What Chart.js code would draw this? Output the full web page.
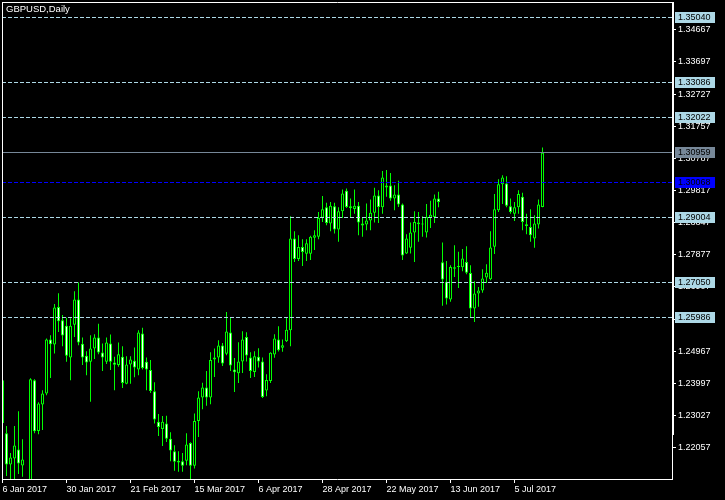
<!DOCTYPE html>
<html><head><meta charset="utf-8">
<script src="https://cdn.jsdelivr.net/npm/chart.js@4.4.1/dist/chart.umd.min.js"></script>
<style>html,body{margin:0;padding:0;background:#000;}canvas{display:block;}</style>
</head><body>
<canvas id="c" width="725" height="500"></canvas>
<script>
const symbolTitle = 'GBPUSD,Daily';
const tickBars = [0, 16, 32, 48, 64, 80, 96, 112, 128];
const tickLabels = ['6 Jan 2017','30 Jan 2017','21 Feb 2017','15 Mar 2017','6 Apr 2017','28 Apr 2017','22 May 2017','13 Jun 2017','5 Jul 2017'];
const priceTicks = [1.34667,1.33697,1.32727,1.31757,1.30787,1.29817,1.28847,1.27877,1.26907,1.25937,1.24967,1.23997,1.23027,1.22057];

const openP = [1.2409,1.2249,1.2155,1.2173,1.2200,1.2152,1.2060,1.2040,1.2409,1.2256,
1.2336,1.2369,1.2532,1.2517,1.2630,1.2590,1.2574,1.2478,1.2577,1.2653,
1.2519,1.2483,1.2465,1.2505,1.2538,1.2493,1.2465,1.2520,1.2463,1.2455,
1.2480,1.2399,1.2457,1.2468,1.2442,1.2550,1.2465,1.2440,1.2376,1.2284,
1.2262,1.2279,1.2233,1.2195,1.2161,1.2165,1.2166,1.2220,1.2151,1.2286,
1.2357,1.2387,1.2357,1.2472,1.2478,1.2514,1.2489,1.2553,1.2442,1.2430,
1.2466,1.2540,1.2478,1.2434,1.2480,1.2466,1.2378,1.2407,1.2487,1.2532,
1.2507,1.2527,1.2560,1.2837,1.2775,1.2811,1.2791,1.2791,1.2839,1.2842,
1.2900,1.2931,1.2882,1.2934,1.2864,1.2919,1.2981,1.2934,1.2926,1.2936,
1.2882,1.2879,1.2891,1.2915,1.2967,1.2931,1.2997,1.2997,1.2958,1.2970,
1.2940,1.2792,1.2809,1.2855,1.2885,1.2880,1.2855,1.2900,1.2902,1.2958,
1.2765,1.2706,1.2653,1.2750,1.2751,1.2750,1.2766,1.2733,1.2626,1.2671,
1.2680,1.2719,1.2714,1.2812,1.2922,1.3001,1.3003,1.2934,1.2912,1.2931,
1.2963,1.2880,1.2872,1.2837,1.2879,1.2932];
const highP = [1.2432,1.2271,1.2190,1.2271,1.2316,1.2231,1.2095,1.2415,1.2412,1.2343,
1.2379,1.2535,1.2545,1.2639,1.2672,1.2606,1.2598,1.2596,1.2678,1.2704,
1.2538,1.2497,1.2545,1.2548,1.2580,1.2520,1.2538,1.2547,1.2480,1.2523,
1.2512,1.2482,1.2482,1.2508,1.2560,1.2568,1.2478,1.2470,1.2403,1.2307,
1.2301,1.2302,1.2252,1.2213,1.2195,1.2190,1.2249,1.2222,1.2309,1.2376,
1.2402,1.2437,1.2494,1.2505,1.2530,1.2522,1.2615,1.2599,1.2476,1.2524,
1.2557,1.2554,1.2494,1.2497,1.2506,1.2478,1.2427,1.2494,1.2548,1.2572,
1.2532,1.2599,1.2904,1.2859,1.2847,1.2835,1.2835,1.2845,1.2862,1.2917,
1.2965,1.2945,1.2947,1.2945,1.2931,1.2985,1.2988,1.2958,1.2985,1.2947,
1.2900,1.2943,1.2955,1.2990,1.2983,1.3041,1.3044,1.3035,1.2998,1.3011,
1.2943,1.2850,1.2885,1.2919,1.2917,1.2904,1.2941,1.2951,1.2970,1.2978,
1.2825,1.2769,1.2756,1.2817,1.2797,1.2805,1.2814,1.2756,1.2708,1.2691,
1.2744,1.2759,1.2859,1.2971,1.3016,1.3028,1.3025,1.2958,1.2947,1.2983,
1.2975,1.2912,1.2925,1.2907,1.2955,1.3112];
const lowP = [1.2262,1.2120,1.2100,1.2040,1.2126,1.2118,1.1987,1.2030,1.2249,1.2246,
1.2259,1.2364,1.2416,1.2490,1.2555,1.2512,1.2465,1.2409,1.2540,1.2515,
1.2455,1.2424,1.2344,1.2473,1.2488,1.2437,1.2458,1.2440,1.2379,1.2450,
1.2386,1.2397,1.2399,1.2418,1.2424,1.2442,1.2379,1.2371,1.2279,1.2241,
1.2211,1.2223,1.2165,1.2136,1.2133,1.2133,1.2153,1.2111,1.2143,1.2238,
1.2322,1.2332,1.2337,1.2419,1.2462,1.2452,1.2485,1.2437,1.2374,1.2401,
1.2431,1.2466,1.2416,1.2419,1.2448,1.2356,1.2361,1.2401,1.2477,1.2496,
1.2495,1.2525,1.2512,1.2766,1.2769,1.2754,1.2769,1.2772,1.2802,1.2835,
1.2887,1.2877,1.2859,1.2852,1.2827,1.2899,1.2929,1.2902,1.2912,1.2847,
1.2842,1.2862,1.2862,1.2885,1.2884,1.2912,1.2963,1.2951,1.2922,1.2932,
1.2772,1.2790,1.2792,1.2766,1.2827,1.2842,1.2840,1.2869,1.2884,1.2931,
1.2634,1.2638,1.2646,1.2721,1.2688,1.2738,1.2729,1.2597,1.2585,1.2631,
1.2673,1.2703,1.2711,1.2790,1.2917,1.2941,1.2931,1.2912,1.2890,1.2912,
1.2862,1.2850,1.2827,1.2809,1.2867,1.2931];
const closeP = [1.2280,1.2155,1.2176,1.2212,1.2158,1.2170,1.2040,1.2412,1.2255,1.2339,
1.2369,1.2532,1.2518,1.2629,1.2587,1.2544,1.2483,1.2574,1.2653,1.2523,
1.2478,1.2463,1.2505,1.2538,1.2493,1.2478,1.2523,1.2465,1.2456,1.2488,
1.2401,1.2457,1.2472,1.2448,1.2553,1.2446,1.2442,1.2377,1.2291,1.2268,
1.2284,1.2233,1.2197,1.2163,1.2166,1.2151,1.2215,1.2151,1.2286,1.2357,
1.2387,1.2357,1.2470,1.2478,1.2514,1.2460,1.2556,1.2454,1.2433,1.2466,
1.2532,1.2484,1.2437,1.2482,1.2466,1.2359,1.2410,1.2492,1.2535,1.2500,
1.2515,1.2562,1.2837,1.2775,1.2811,1.2796,1.2823,1.2842,1.2847,1.2900,
1.2925,1.2884,1.2936,1.2864,1.2919,1.2973,1.2932,1.2929,1.2936,1.2885,
1.2876,1.2891,1.2915,1.2967,1.2932,1.3021,1.2991,1.2958,1.2970,1.2940,
1.2786,1.2837,1.2855,1.2887,1.2880,1.2879,1.2902,1.2909,1.2958,1.2947,
1.2713,1.2656,1.2751,1.2746,1.2753,1.2777,1.2734,1.2626,1.2671,1.2680,
1.2716,1.2734,1.2810,1.2925,1.3001,1.3021,1.2936,1.2917,1.2931,1.2971,
1.2887,1.2875,1.2847,1.2882,1.2940,1.3096];

const dashedLevels = [1.35040, 1.33086, 1.32022, 1.29004, 1.27050, 1.25986];
const blueLevel = 1.30068;
const bidLevel = 1.30959;

const FONT = "'Liberation Sans', Arial, sans-serif";
const Y_MIN = 1.211119, Y_MAX = 1.355078;
const X_MIN = -0.125, X_MAX = 167.375;

const barIdx = openP.map((_, i) => i);

const overlay = {
  id: 'overlay',
  beforeDraw(chart) {
    const ctx = chart.ctx;
    ctx.save();
    ctx.fillStyle = '#000';
    ctx.fillRect(0, 0, chart.width, chart.height);
    ctx.restore();
  },
  afterDatasetsDraw(chart) {
    const { ctx, chartArea: a, scales: { y } } = chart;
    ctx.save();
    ctx.lineWidth = 1;
    const hline = (v, color, dash) => {
      const py = Math.floor(y.getPixelForValue(v)) + 0.5;
      ctx.strokeStyle = color;
      ctx.setLineDash(dash);
      ctx.beginPath();
      ctx.moveTo(a.left, py);
      ctx.lineTo(a.right, py);
      ctx.stroke();
    };
    dashedLevels.forEach(v => hline(v, '#add8e6', [4, 2]));
    hline(blueLevel, '#0000ff', [4, 2]);
    hline(bidLevel, '#778899', []);
    ctx.restore();
  },
  afterDraw(chart) {
    const { ctx, chartArea: a, scales: { y } } = chart;
    ctx.save();
    ctx.setLineDash([]);
    ctx.strokeStyle = '#ffffff';
    ctx.lineWidth = 1;
    ctx.beginPath();
    ctx.moveTo(a.left + 0.5, a.top);
    ctx.lineTo(a.left + 0.5, a.bottom);
    ctx.moveTo(a.left, a.top + 0.5);
    ctx.lineTo(a.right + 1, a.top + 0.5);
    ctx.stroke();
    ctx.fillStyle = '#ffffff';
    ctx.fillRect(a.right + 1, a.top, 1, 433);
    const box = (v, bg) => {
      const py = Math.floor(y.getPixelForValue(v));
      ctx.fillStyle = bg;
      ctx.fillRect(675, py - 5, 40, 11);
      ctx.fillStyle = '#000000';
      ctx.font = '9px ' + FONT;
      ctx.textAlign = 'left';
      ctx.textBaseline = 'middle';
      ctx.fillText(v.toFixed(5), 678, py + 0.5);
    };
    dashedLevels.forEach(v => box(v, '#add8e6'));
    box(blueLevel, '#0000ff');
    box(bidLevel, '#778899');
    ctx.fillStyle = '#ffffff';
    ctx.font = '9.5px ' + FONT;
    ctx.textAlign = 'left';
    ctx.textBaseline = 'alphabetic';
    ctx.fillText(symbolTitle, 6, 12);
    ctx.restore();
  }
};

const axisGrid = { display: true, drawOnChartArea: false, drawTicks: true, tickLength: 4, color: '#ffffff', lineWidth: 1, offset: false };
const axisBorder = { display: true, color: '#ffffff', width: 1 };

new Chart(document.getElementById('c'), {
  type: 'bar',
  data: {
    datasets: [
      {
        label: 'body', order: 0, clip: 0,
        data: barIdx.map(i => ({ x: i, y: [openP[i], closeP[i]] })),
        backgroundColor: barIdx.map(i => closeP[i] < openP[i] ? '#ffffff' : '#000000'),
        borderColor: '#00ff00', borderWidth: 1, borderSkipped: false,
        barThickness: 3, minBarLength: 1, grouped: false, inflateAmount: 0
      },
      {
        label: 'wick', order: 1, clip: 0,
        data: barIdx.map(i => ({ x: i, y: [lowP[i], highP[i]] })),
        backgroundColor: '#00ff00', borderWidth: 0,
        barThickness: 1, grouped: false, inflateAmount: 0
      }
    ]
  },
  options: {
    responsive: false, animation: false, devicePixelRatio: 1,
    layout: { padding: { left: 2, top: 2, right: 0, bottom: 0 } },
    plugins: { legend: { display: false }, tooltip: { enabled: false } },
    scales: {
      x: {
        type: 'linear', position: 'bottom', min: X_MIN, max: X_MAX, offset: false,
        afterFit(s) { s.height = 21; s.paddingLeft = 0; s.paddingRight = 0; s.paddingTop = 0; s.paddingBottom = 0; },
        afterBuildTicks(s) { s.ticks = tickBars.map(v => ({ value: v })); },
        grid: axisGrid, border: axisBorder,
        ticks: { color: '#ffffff', font: { family: FONT, size: 9 }, align: 'start', maxRotation: 0, minRotation: 0, autoSkip: false, padding: 1,
          callback: (v, idx) => tickLabels[idx] }
      },
      y: {
        type: 'linear', position: 'right', min: Y_MIN, max: Y_MAX,
        afterFit(s) { s.width = 53; s.paddingLeft = 0; s.paddingRight = 0; s.paddingTop = 0; s.paddingBottom = 0; },
        afterBuildTicks(s) { s.ticks = priceTicks.map(v => ({ value: v })); },
        grid: axisGrid, border: axisBorder,
        ticks: { color: '#ffffff', font: { family: FONT, size: 9 }, padding: 2, autoSkip: false,
          callback: v => Number(v).toFixed(5) }
      }
    }
  },
  plugins: [overlay]
});
</script>
</body></html>
